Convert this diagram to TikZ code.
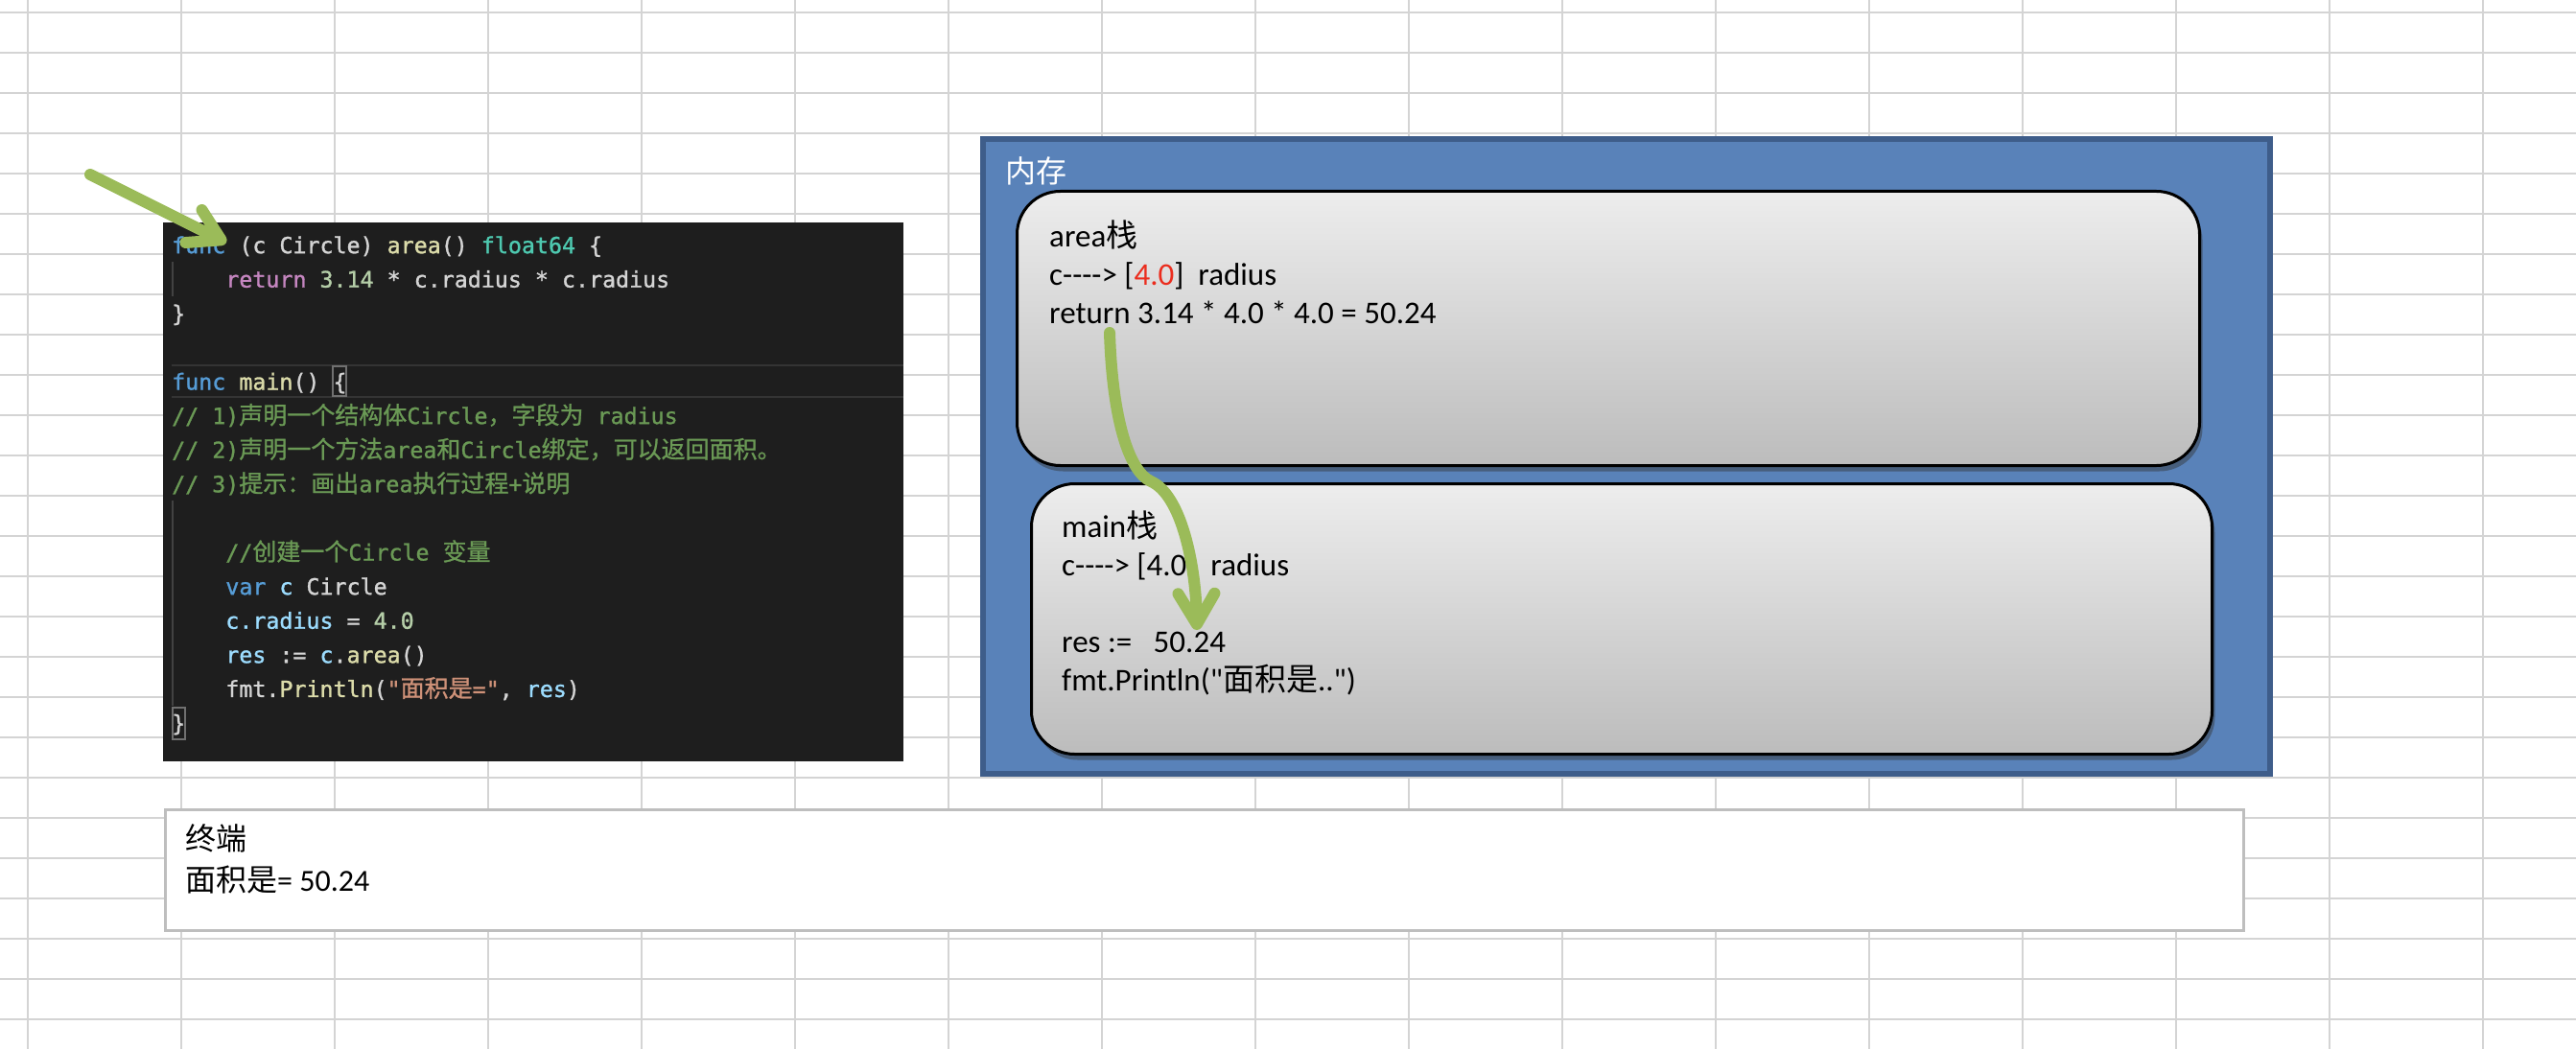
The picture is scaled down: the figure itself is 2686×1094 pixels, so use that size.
\documentclass[tikz,border=0pt]{standalone}
\usepackage{fontspec}
\setmainfont{Carlito}[Ligatures=TeXOff]
\newfontfamily\cjk{Noto Sans CJK SC}
\newfontfamily\cjkcode{Noto Sans CJK SC}[FakeBold=1]
\newfontfamily\codefont{DejaVu Sans Mono}[Ligatures=TeXOff, FakeBold=1.2]
\usetikzlibrary{arrows.meta, shadows}
\definecolor{gridgray}{RGB}{212,212,212}
\definecolor{codebg}{RGB}{30,30,30}
\definecolor{curline}{RGB}{52,52,52}
\definecolor{bracketbox}{RGB}{112,112,112}
\definecolor{guide}{RGB}{66,66,66}
\definecolor{gotxt}{RGB}{212,212,212}
\definecolor{gokw}{RGB}{86,156,214}
\definecolor{goctl}{RGB}{197,134,192}
\definecolor{gofn}{RGB}{220,220,170}
\definecolor{gotype}{RGB}{78,201,176}
\definecolor{gonum}{RGB}{181,206,168}
\definecolor{govar}{RGB}{156,220,254}
\definecolor{gostr}{RGB}{206,145,120}
\definecolor{gocmt}{RGB}{106,153,85}
\definecolor{memfill}{RGB}{89,130,185}
\definecolor{memborder}{RGB}{62,93,138}
\definecolor{stacktop}{RGB}{237,237,237}
\definecolor{stackbot}{RGB}{188,188,188}
\definecolor{redval}{RGB}{235,45,30}
\definecolor{termborder}{RGB}{190,190,190}
\definecolor{ptrgreen}{RGB}{155,187,89}
\newcommand\zh[1]{{\cjk #1}}
\newcommand\zhc[1]{{\cjkcode\fontsize{25}{35.6}\selectfont #1}}
\newcommand\ind{\phantom{xxxx}}

\begin{document}
\begin{tikzpicture}[x=1pt, y=-1pt,
  gridline/.style={gridgray, line width=2pt},
  stackbox/.style={draw=black, line width=3pt, rounded corners=45pt, top color=stacktop, bottom color=stackbot,
    drop shadow={shadow xshift=3pt, shadow yshift=-6pt, opacity=.45, fill=black!80}, inner sep=0pt, outer sep=0pt},
  stacktxt/.style={anchor=north west, align=left, inner sep=0pt, font=\fontsize{33}{40}\selectfont},
  pointer/.style={ptrgreen, line width=12pt, line cap=round, -{Straight Barb[round, length=32pt, width=38pt]}}
]
  \useasboundingbox (0,0) rectangle (2686,1094);
  \fill[white] (0,0) rectangle (2686,1094);
  \foreach \x in {29,189,...,2589} \draw[gridline] (\x,0) -- (\x,1094);
  \foreach \y in {13,55,...,1063} \draw[gridline] (0,\y) -- (2686,\y);

  \node[fill=codebg, minimum width=772pt, minimum height=562pt, inner sep=0pt, outer sep=0pt] (code) at (556,513) {};
  \draw[curline, line width=2pt] (179,381) -- (942,381) (179,414) -- (942,414);
  \draw[guide, line width=1.5pt] (180,273) -- (180,309) (180,522) -- (180,736);
  \draw[bracketbox, line width=1.5pt] (347,382) rectangle (361,413) (180,738) rectangle (193,771);
  \node[anchor=north west, align=left, inner sep=0pt, text=gotxt, font=\codefont\fontsize{23.3}{35.6}\selectfont] (codetxt) at (179,239) {
    \strut\textcolor{gokw}{func} (c Circle) \textcolor{gofn}{area}() \textcolor{gotype}{float64} \{\\
    \ind\textcolor{goctl}{return} \textcolor{gonum}{3.14} * c.radius * c.radius\\
    \}\\
    \mbox{}\\
    \textcolor{gokw}{func} \textcolor{gofn}{main}() \{\\
    \textcolor{gocmt}{// 1)\zhc{声明一个结构体}Circle\zhc{，字段为} radius}\\
    \textcolor{gocmt}{// 2)\zhc{声明一个方法}area\zhc{和}Circle\zhc{绑定，可以返回面积。}}\\
    \textcolor{gocmt}{// 3)\zhc{提示：画出}area\zhc{执行过程}+\zhc{说明}}\\
    \mbox{}\\
    \ind\textcolor{gocmt}{//\zhc{创建一个}Circle \zhc{变量}}\\
    \ind\textcolor{gokw}{var} \textcolor{govar}{c} Circle\\
    \ind\textcolor{govar}{c.radius} = \textcolor{gonum}{4.0}\\
    \ind\textcolor{govar}{res} := \textcolor{govar}{c}.\textcolor{gofn}{area}()\\
    \ind fmt.\textcolor{gofn}{Println}(\textcolor{gostr}{"\zhc{面积是}="}, \textcolor{govar}{res})\\
    \}
  };

  \node[fill=memfill, draw=memborder, line width=6pt, minimum width=1342pt, minimum height=662pt, inner sep=0pt, outer sep=0pt] (mem) at (1696,476) {};
  \node[anchor=west, inner sep=0pt, text=white, font=\cjk\fontsize{32}{38}\selectfont] (memlbl) at (1048,178) {内存};
  \node[stackbox, minimum width=1233pt, minimum height=286pt] (areastack) at (1677,342.5) {};
  \node[stackbox, minimum width=1231pt, minimum height=282pt] (mainstack) at (1691,645.5) {};
  \node[stacktxt] (areatxt) at (1094,229) {
    \strut area\zh{栈}\\
    c----> [\textcolor{redval}{4.0}]~~radius\\
    return 3.14 * 4.0 * 4.0 = 50.24
  };
  \node[stacktxt] (maintxt) at (1107,532) {
    \strut main\zh{栈}\\
    c----> [4.0]~~radius\\
    \mbox{}\\
    res :=~~~50.24\\
    fmt.Println("\zh{面积是}..")
  };

  \node[draw=termborder, line width=3pt, fill=white, minimum width=2167pt, minimum height=126pt, inner sep=0pt] (term) at (1256,907.5) {};
  \node[anchor=north west, align=left, inner sep=0pt, font=\fontsize{32}{43}\selectfont] (termtxt) at (193,856) {
    \strut\zh{终端}\\
    \zh{面积是}= 50.24
  };

  \coordinate (ptrtail) at (94,182);
  \coordinate (ptrtip) at (236,253);
  \draw[pointer] (ptrtail) -- (ptrtip);
  \coordinate (retfrom) at (1157,347);
  \coordinate (restip) at (1248,657);
  \draw[pointer] (retfrom) .. controls (1160,440) and (1178,492) .. (1200,502)
    .. controls (1232,516) and (1247,590) .. (restip);
\end{tikzpicture}
\end{document}
